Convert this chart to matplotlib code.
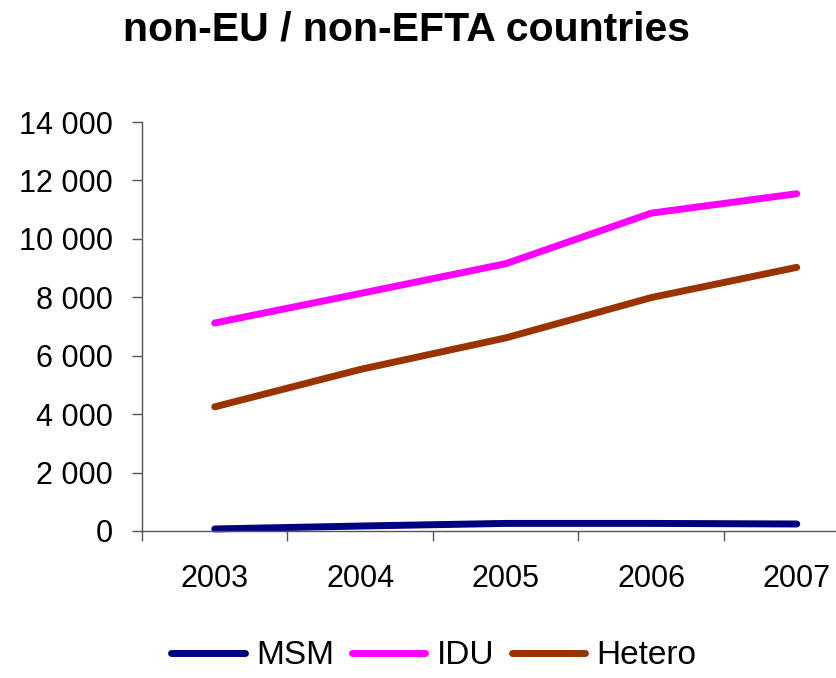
import matplotlib
matplotlib.use("Agg")
import matplotlib.pyplot as plt
from matplotlib.ticker import FuncFormatter, FixedLocator

plt.rcParams['font.family'] = ['Liberation Sans', 'DejaVu Sans']

years = ['2003', '2004', '2005', '2006', '2007']
msm = [70, 170, 260, 260, 240]
idu = [7120, 8130, 9150, 10880, 11545]
hetero = [4250, 5530, 6610, 7990, 9025]

fig = plt.figure(figsize=(8.37, 6.78), dpi=100)
ax = fig.add_axes([142/837, 1-531/678, (869.5-142)/837, (531-122)/678])

x = list(range(len(years)))
lw = 5
ax.plot(x, msm, color='#000080', lw=lw, solid_capstyle='round', solid_joinstyle='round', label='MSM', clip_on=False)
ax.plot(x, idu, color='#FF00FF', lw=lw, solid_capstyle='round', solid_joinstyle='round', label='IDU', clip_on=False)
ax.plot(x, hetero, color='#993300', lw=lw, solid_capstyle='round', solid_joinstyle='round', label='Hetero', clip_on=False)

ax.set_xlim(-0.5, len(years) - 0.5)
ax.set_ylim(0, 14000)
ax.set_yticks(range(0, 14001, 2000))
ax.yaxis.set_major_formatter(FuncFormatter(lambda v, p: f"{int(v):,}".replace(',', ' ')))
ax.set_xticks(x)
ax.set_xticklabels(years)
ax.xaxis.set_minor_locator(FixedLocator([i - 0.5 for i in range(len(years) + 1)]))

for s in ['top', 'right']:
    ax.spines[s].set_visible(False)
for s in ['left', 'bottom']:
    ax.spines[s].set_color('#555555')
    ax.spines[s].set_linewidth(1.0)

ax.tick_params(axis='y', direction='out', length=7, width=1, color='#555555', labelsize=22, pad=14)
ax.tick_params(axis='x', which='major', length=0, labelsize=22, pad=24)
ax.tick_params(axis='x', which='minor', direction='out', length=7, width=1, color='#555555')

fig.text(0.486, 0.956, 'non-EU / non-EFTA countries', ha='center', va='center',
         fontsize=29.5, fontweight='bold')

fig.legend(loc='center', bbox_to_anchor=(434/837, 1-656/678), ncol=3, frameon=False,
           fontsize=24, handlelength=2.2, handletextpad=0.35, columnspacing=0.52,
           borderpad=0, borderaxespad=0)

fig.savefig('out.png', dpi=100)
